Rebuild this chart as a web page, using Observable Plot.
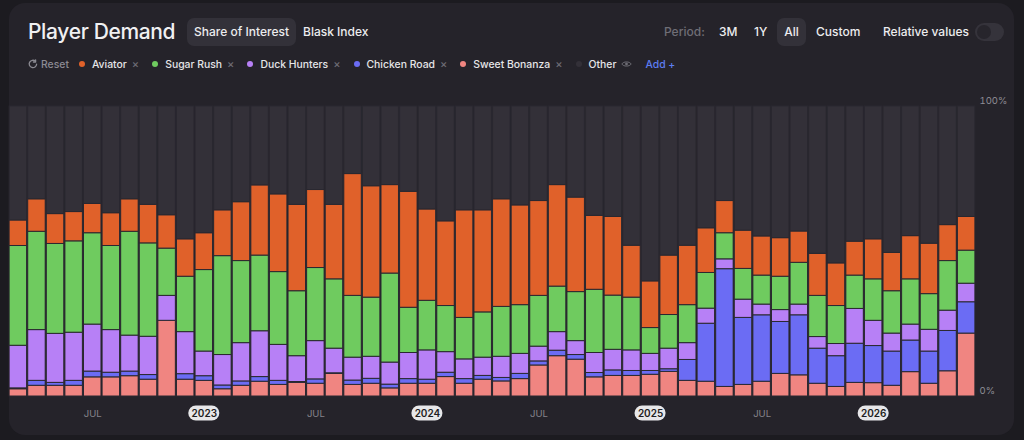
<!DOCTYPE html>
<html>
<head>
<meta charset="utf-8">
<script src="https://cdn.jsdelivr.net/npm/d3@7"></script>
<script src="https://cdn.jsdelivr.net/npm/@observablehq/plot@0.6"></script>
<style>
  html, body { margin:0; padding:0; }
  body { width:1024px; height:440px; overflow:hidden; background:#1c1b20; font-family:Inter, "Noto Sans", sans-serif; color:#ececee; position:relative; }
  .card { position:absolute; left:9px; top:3px; width:1005px; height:432px; border-radius:16px; background:#25232a; }
  .abs { position:absolute; white-space:nowrap; }
  .title { left:28px; top:21px; font-size:21px; line-height:22px; font-weight:500; letter-spacing:-0.35px; color:#f0f0f2; }
  .pill { top:18px; height:28px; line-height:28px; border-radius:7px; background:#333139; text-align:center; font-size:12px; font-weight:500; color:#ececee; }
  .tab { top:18px; height:28px; line-height:28px; font-size:12px; font-weight:500; color:#ececee; }
  .muted { color:#6f6e76; }
  .toggle { left:975px; top:23px; width:29px; height:18px; border-radius:9px; background:#35333b; }
  .knob { position:absolute; left:2px; top:2px; width:14px; height:14px; border-radius:7px; background:#27252c; }
  .legend { left:28px; top:55px; height:18px; display:flex; align-items:center; font-size:10.4px; font-weight:500; color:#e6e6e8; }
  .legend .item { display:flex; align-items:center; margin-right:13px; }
  .legend .dot { width:6px; height:6px; border-radius:3px; margin-right:7px; }
  .legend .x { color:#6d6c74; margin-left:5px; font-size:11px; }
  .legend .reset { color:#8b8a92; display:flex; align-items:center; margin-right:10px; }
  .legend .add { color:#5d7df0; }
  #chart { position:absolute; left:0; top:96px; }
</style>
</head>
<body>
<div class="card"></div>
<div class="abs title">Player Demand</div>
<div class="abs pill" style="left:187px;width:109px;">Share of Interest</div>
<div class="abs tab" style="left:303px;">Blask Index</div>
<div class="abs tab muted" style="left:664px;">Period:</div>
<div class="abs tab" style="left:719px;">3M</div>
<div class="abs tab" style="left:754px;">1Y</div>
<div class="abs pill" style="left:777px;width:29px;">All</div>
<div class="abs tab" style="left:816px;">Custom</div>
<div class="abs tab" style="left:883px;">Relative values</div>
<div class="abs toggle"><div class="knob"></div></div>
<div class="abs legend" id="legend"></div>
<div id="chart"></div>
<script>
// ---- data ----
const months = [
  "2022-03","2022-04","2022-05","2022-06","2022-07","2022-08","2022-09","2022-10","2022-11","2022-12",
  "2023-01","2023-02","2023-03","2023-04","2023-05","2023-06","2023-07","2023-08","2023-09","2023-10","2023-11","2023-12",
  "2024-01","2024-02","2024-03","2024-04","2024-05","2024-06","2024-07","2024-08","2024-09","2024-10","2024-11","2024-12",
  "2025-01","2025-02","2025-03","2025-04","2025-05","2025-06","2025-07","2025-08","2025-09","2025-10","2025-11","2025-12",
  "2026-01","2026-02","2026-03","2026-04","2026-05","2026-06"
];
const seriesNames = ["Sweet Bonanza","Chicken Road","Duck Hunters","Sugar Rush","Aviator","Other"];
const seriesColors = ["#f08581","#6b6cf4","#b780f6","#6fcb5f","#e0612a","#333038"];
const legendNames = ["Aviator","Sugar Rush","Duck Hunters","Chicken Road","Sweet Bonanza","Other"];

const sweetBonanza = [2.5,3.7,3.7,3.7,6.6,6.6,7.0,5.8,26.1,5.8,5.4,2.5,3.7,5.1,4.0,4.7,4.4,7.8,4.0,4.4,2.8,4.4,4.4,6.7,4.4,5.8,5.2,6.0,10.7,13.9,12.7,6.6,7.1,7.1,7.5,8.5,5.4,5.1,3.3,4.0,5.1,7.8,7.3,4.4,3.3,4.7,4.6,3.7,8.4,4.4,8.7,21.7];
const chickenRoad  = [0.3,1.7,1.0,1.7,2.0,1.6,1.6,1.6,0.0,1.9,1.6,1.3,1.5,1.6,1.4,0.3,1.5,0.2,1.5,1.7,1.3,1.6,1.4,1.5,1.6,1.3,1.2,1.8,1.4,1.9,1.6,1.5,1.9,1.7,1.3,0.9,7.2,20.0,40.6,23.1,22.9,17.9,20.7,12.1,10.6,13.5,12.8,11.8,10.9,11.1,13.9,10.8];
const duckHunters  = [14.7,17.5,16.9,16.6,16.2,14.7,12.4,13.2,8.6,14.5,8.5,10.5,13.2,15.8,12.4,8.9,13.2,8.5,7.9,7.6,7.6,9.0,10.1,7.1,6.8,6.3,7.3,6.9,5.1,6.4,4.8,6.9,7.1,7.1,5.9,7.1,5.8,5.2,3.4,6.3,3.7,4.1,3.7,4.0,4.2,12.0,8.7,6.2,5.5,7.5,7.0,6.4];
const sugarRush    = [34.4,33.9,31.0,31.5,31.5,29.0,35.8,32.2,16.3,19.1,28.1,34.1,28.3,26.1,25.1,22.4,25.2,23.9,21.3,20.4,30.7,15.6,17.1,15.9,14.3,15.6,17.2,16.8,17.5,15.7,16.9,21.8,18.7,18.2,8.9,11.6,13.1,12.3,9.0,10.6,10.0,11.5,14.4,14.2,13.1,11.5,14.3,14.6,15.6,12.3,17.1,11.4];
const aviator      = [8.8,11.2,10.3,10.1,10.1,11.3,11.2,13.3,11.5,12.9,12.7,15.8,20.3,24.2,26.8,29.8,26.9,25.7,42.0,38.4,30.5,40.0,31.5,29.2,37.1,35.2,37.1,34.4,32.7,35.0,32.6,25.5,27.1,17.9,16.1,20.5,20.5,15.4,11.1,13.2,13.5,13.3,10.8,14.5,14.7,11.7,13.8,13.2,14.9,17.4,12.4,11.6];
const other        = [39.3,32.0,37.1,36.4,33.6,36.8,32.0,33.9,37.5,45.8,43.7,35.8,33.0,27.2,30.3,33.9,28.8,33.9,23.3,27.5,27.1,29.4,35.5,39.6,35.8,35.8,32.0,34.1,32.6,27.1,31.4,37.7,38.1,48.0,60.3,51.4,48.0,42.0,32.6,42.8,44.8,45.4,43.1,50.8,54.1,46.6,45.8,50.5,44.7,47.3,40.9,38.1];

const tickMonths = ["2022-07","2023-01","2023-07","2024-01","2024-07","2025-01","2025-07","2026-01"];
const tickLabels = ["JUL","2023","JUL","2024","JUL","2025","JUL","2026"];
const yTicks = [0, 100];

// ---- tidy table ----
const seriesValues = [sweetBonanza, chickenRoad, duckHunters, sugarRush, aviator, other];
const rows = [];
months.forEach((m, i) => {
  seriesNames.forEach((s, j) => rows.push({month: m, series: s, value: seriesValues[j][i]}));
});
const ticks = tickMonths.map((m, i) => ({month: m, label: tickLabels[i]}));
const monthTicks = ticks.filter(d => d.label === "JUL");
const yearTicks = ticks.filter(d => d.label !== "JUL");

// ---- legend ----
const colorOf = Object.fromEntries(seriesNames.map((s, i) => [s, seriesColors[i]]));
const legend = document.getElementById("legend");
legend.innerHTML =
  `<span class="reset"><svg width="10" height="10" viewBox="0 0 10 10" style="margin-right:3px"><path d="M8.6 5.2A3.7 3.7 0 1 1 7.4 2.2" fill="none" stroke="#8b8a92" stroke-width="1.3" stroke-linecap="round"/><path d="M7.6 0.8v2.2h-2.2" fill="none" stroke="#8b8a92" stroke-width="1.3" stroke-linecap="round" stroke-linejoin="round"/></svg>Reset</span>` +
  legendNames.map(n => {
    const isOther = n === "Other";
    const end = isOther
      ? `<svg width="11" height="8" viewBox="0 0 11 8" style="margin-left:5px"><path d="M0.8 4C2.5 1.2 8.5 1.2 10.2 4C8.5 6.8 2.5 6.8 0.8 4Z" fill="none" stroke="#6d6c74" stroke-width="1"/><circle cx="5.5" cy="4" r="1.4" fill="#6d6c74"/></svg>`
      : `<span class="x">×</span>`;
    return `<span class="item"><span class="dot" style="background:${colorOf[n]}"></span>${n}${end}</span>`;
  }).join("") +
  `<span class="add">Add +</span>`;

// ---- chart ----
const chart = Plot.plot({
  width: 1024,
  height: 344,
  marginLeft: 8,
  marginRight: 48,
  marginTop: 10,
  marginBottom: 44,
  style: {background: "transparent", fontFamily: "Inter, sans-serif", overflow: "visible"},
  x: {type: "band", domain: months, padding: 0.06, axis: null},
  y: {domain: [0, 100]},
  color: {domain: seriesNames, range: seriesColors},
  marks: [
    Plot.barY(rows, {
      x: "month", y: "value", fill: "series",
      order: seriesNames,
      stroke: "#2a2830", strokeWidth: 1
    }),
    Plot.axisY({
      anchor: "right", ticks: yTicks, tickFormat: d => d + "%",
      tickSize: 0, tickPadding: 3, dy: -6, fill: "#8e8d95", fontSize: 9.5, label: null
    }),
    Plot.text(monthTicks, {x: "month", y: () => 0, dy: 17, text: "label", fill: "#85848c", fontSize: 9.5}),
    Plot.tickY(yearTicks, {x: "month", y: () => 0, dy: 16.5, stroke: "#e7e7e9", strokeWidth: 15, strokeLinecap: "round", inset: 0.7}),
    Plot.text(yearTicks, {x: "month", y: () => 0, dy: 17, text: "label", fill: "#1e1d22", fontSize: 10, fontWeight: 600})
  ]
});
document.getElementById("chart").appendChild(chart);
</script>
</body>
</html>
